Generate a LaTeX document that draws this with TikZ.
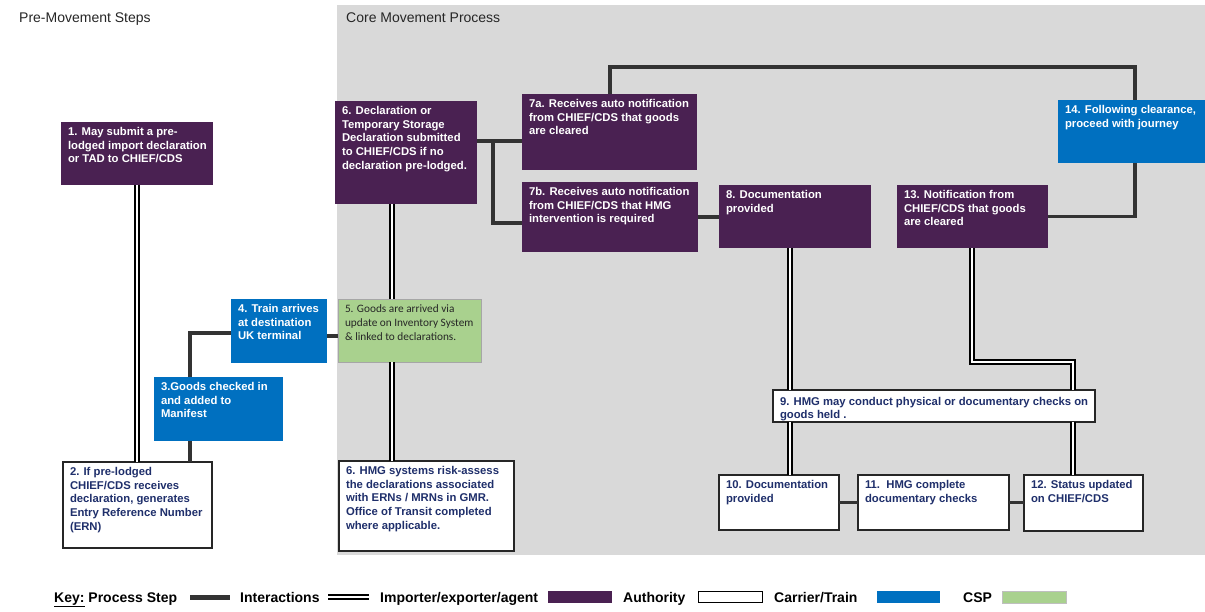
\documentclass[tikz,border=0pt]{standalone}
\usepackage{fontspec}
\setmainfont{Liberation Sans}
\newfontfamily\carlitofont{Carlito}
\definecolor{cAuth}{HTML}{4A2152}
\definecolor{cCarrier}{HTML}{0070C0}
\definecolor{cCsp}{HTML}{A9D18E}
\definecolor{cBg}{HTML}{D9D9D9}
\definecolor{cNavy}{HTML}{1F2F6B}
\definecolor{cLine}{HTML}{333333}
\definecolor{cTitle}{HTML}{262626}
\newcommand{\bt}[4][13.5]{\parbox[c][#3pt][t]{#2pt}{\fontsize{11.3}{13.7}\selectfont\bfseries\leftskip=7pt\rightskip=-40pt plus 1fil\parfillskip=0pt plus 1fil\rule{0pt}{#1pt}#4}}
\newcommand{\ct}[3]{\parbox[c][#2pt][t]{#1pt}{\carlitofont\fontsize{11.3}{14}\selectfont\leftskip=7pt\rightskip=-40pt plus 1fil\parfillskip=0pt plus 1fil\rule{0pt}{13.5pt}#3}}
\tikzset{
  basebox/.style={anchor=north west, inner sep=0pt, outer sep=0pt},
  authbox/.style={basebox, fill=cAuth, text=white},
  carrbox/.style={basebox, fill=cCarrier, text=white},
  cspbox/.style={basebox, fill=cCsp, draw=black!35, line width=0.8pt, text=black!85},
  agentbox/.style={basebox, fill=white, draw=black!85, line width=1.2pt, text=cNavy},
  proc/.style={draw=cLine, line width=3.2pt},
  dbl/.style={draw=black, line width=1.5pt, double=white, double distance=2.5pt},
  legtext/.style={anchor=base west, inner sep=0pt, font=\fontsize{14}{16}\selectfont\bfseries},
  legrect/.style={inner sep=0pt, minimum width=64pt, minimum height=12pt},
  titletext/.style={anchor=base west, inner sep=0pt, font=\fontsize{14}{16}\selectfont, text=cTitle}
}
\begin{document}
\begin{tikzpicture}[x=1pt, y=-1pt]
\useasboundingbox (0,0) rectangle (1205,612);
\fill[white] (0,0) rectangle (1205,612);
\fill[cBg] (337,5) rectangle (1205,555);

\node[titletext] (t1) at (19,23) {Pre-Movement Steps};
\node[titletext] (t2) at (346,23) {Core Movement Process};

% boxes
\node[authbox] (b1) at (61,122) {\bt{152}{63}{1. May submit a pre-\\lodged import declaration\\or TAD to CHIEF/CDS}};
\node[agentbox] (b2) at (63,462) {\bt{149}{86}{2. If pre-lodged\\CHIEF/CDS receives\\declaration, generates\\Entry Reference Number\\(ERN)}};
\node[carrbox] (b3) at (154,377) {\bt{129}{64}{3.Goods checked in\\and added to\\Manifest}};
\node[carrbox] (b4) at (231,299) {\bt{96}{64}{4. Train arrives\\at destination\\UK terminal}};
\node[cspbox] (b5) at (338,299) {\ct{143}{63}{5. Goods are arrived via\\update on Inventory System\\\& linked to declarations.}};
\node[authbox] (b6) at (335,101) {\bt{142}{103}{6. Declaration or\\Temporary Storage\\Declaration submitted\\to CHIEF/CDS if no\\declaration pre-lodged.}};
\node[agentbox] (b6b) at (339,461) {\bt{175}{90}{6. HMG systems risk-assess\\the declarations associated\\with ERNs / MRNs in GMR.\\Office of Transit completed\\where applicable.}};
\node[authbox] (b7a) at (522,94) {\bt{175}{76}{7a. Receives auto notification\\from CHIEF/CDS that goods\\are cleared}};
\node[authbox] (b7b) at (522,182) {\bt{176}{70}{7b. Receives auto notification\\from CHIEF/CDS that HMG\\intervention is required}};
\node[authbox] (b8) at (719,185) {\bt{152}{63}{8. Documentation\\provided}};
\node[authbox] (b13) at (897,185) {\bt{151}{63}{13. Notification from\\CHIEF/CDS that goods\\are cleared}};
\node[carrbox] (b14) at (1058,100) {\bt{147}{63}{14. Following clearance,\\proceed with journey}};
\node[agentbox] (b9) at (773,390) {\bt[15]{322}{32}{9. HMG may conduct physical or documentary checks on\\goods held .}};
\node[agentbox] (b10) at (719,475) {\bt{120}{55}{10. Documentation\\provided}};
\node[agentbox] (b11) at (858,475) {\bt{151}{55}{11.\ \ HMG complete\\documentary checks}};
\node[agentbox] (b12) at (1024,475) {\bt{119}{56}{12. Status updated\\on CHIEF/CDS}};

% helper coordinates
\coordinate (x190) at (190,0);
\coordinate (y333) at (0,333);
\coordinate (y336) at (0,336);
\coordinate (x392) at (392,0);
\coordinate (y141) at (0,141);
\coordinate (j1) at (493,141);
\coordinate (y223) at (0,223);
\coordinate (tl) at (610,67);
\coordinate (tr) at (1135,67);
\coordinate (x790) at (790,0);
\coordinate (m1) at (972,362);
\coordinate (m2) at (1073,362);

% connectors
\draw[dbl] (b1.south) -- (b2.north -| b1.south);
\draw[proc] (b3.south -| x190) -- (b2.north -| x190);
\draw[proc] (b3.north -| x190) |- (b4.west |- y333);
\draw[proc] (b4.east |- y336) -- (b5.west |- y336);
\draw[dbl] (b6.south -| x392) -- (b5.north -| x392);
\draw[dbl] (b5.south -| x392) -- (b6b.north -| x392);
\draw[proc] (b6.east |- y141) -- (b7a.west |- y141);
\draw[proc] (j1) |- (b7b.west |- y223);
\draw[proc] (b7b.east) -- (b8.west |- b7b.east);
\draw[proc] (b7a.north -| tl) -- (tl) -- (tr) -- (b14.north -| tr);
\draw[proc] (b14.south -| tr) |- (b13.east);
\draw[dbl] (b8.south -| x790) -- (b9.north -| x790);
\draw[dbl] (b9.south -| x790) -- (b10.north -| x790);
\draw[dbl] (b13.south -| m1) -- (m1) -- (m2) -- (b9.north -| m2);
\draw[dbl] (b9.south -| m2) -- (b12.north -| m2);
\draw[proc] (b10.east) -- (b11.west |- b10.east);
\draw[proc] (b11.east) -- (b12.west |- b11.east);

% legend
\node[legtext] (k1) at (54,602) {\underline{Key:} Process Step};
\node[inner sep=0pt, fill=cLine, minimum width=40pt, minimum height=5pt] (kbar) at (210,597) {};
\node[legtext] (k2) at (240,602) {Interactions};
\coordinate (kd1) at (328,597);
\coordinate (kd2) at (369,597);
\draw[draw=black, line width=2pt, double=white, double distance=2pt] (kd1) -- (kd2);
\node[legtext] (k3) at (380,602) {Importer/exporter/agent};
\node[legrect, fill=cAuth] (kp) at (580,597) {};
\node[legtext] (k4) at (623,602) {Authority};
\node[legrect, fill=white, draw=black, line width=1pt, minimum height=11pt] (kw) at (730,597) {};
\node[legtext] (k5) at (774,602) {Carrier/Train};
\node[legrect, fill=cCarrier, minimum width=63pt] (kb) at (908,597) {};
\node[legtext] (k6) at (963,602) {CSP};
\node[legrect, fill=cCsp, draw=black!25, line width=0.8pt] (kg) at (1034,597) {};
\end{tikzpicture}
\end{document}
